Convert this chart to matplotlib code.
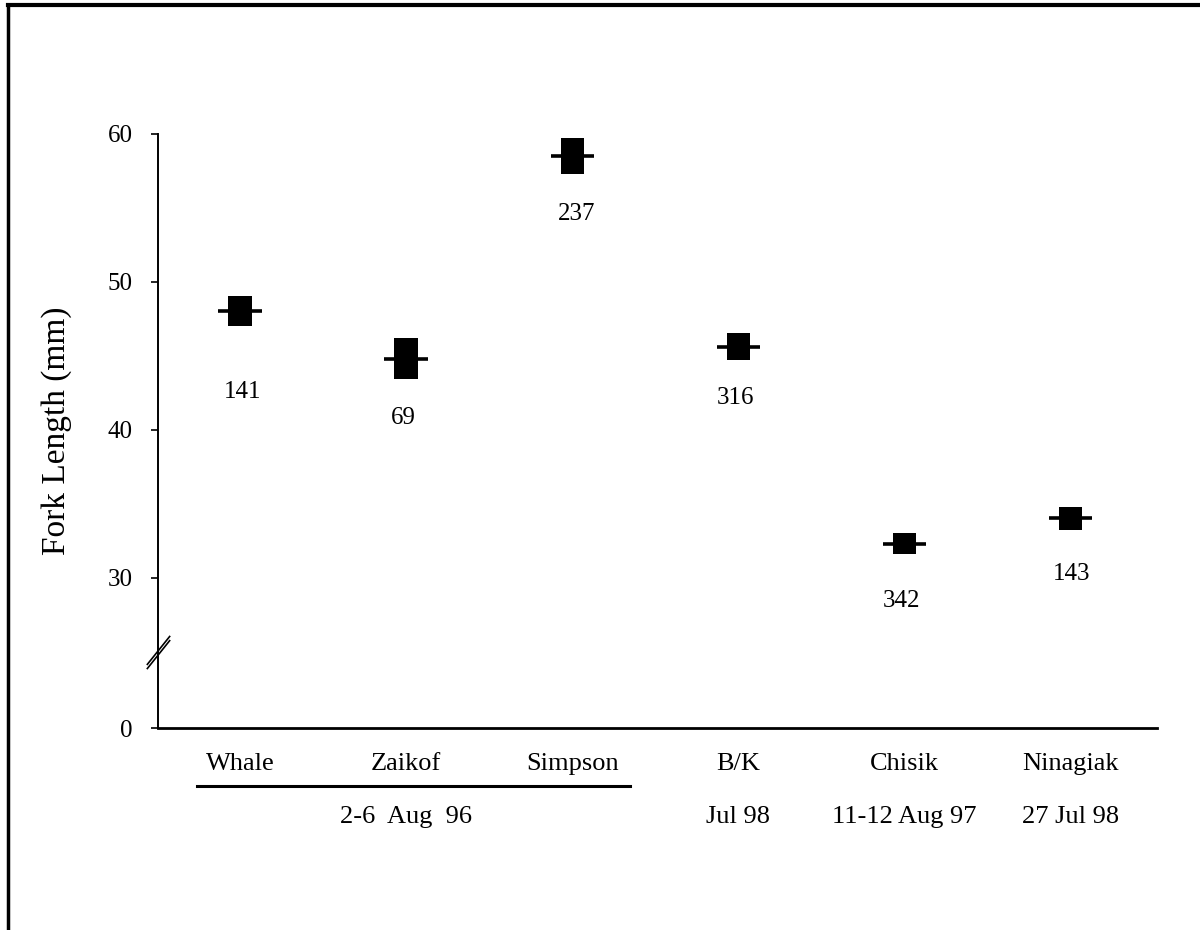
import numpy as np
import matplotlib
matplotlib.use("Agg")
import matplotlib.pyplot as plt
from matplotlib.lines import Line2D
from matplotlib.path import Path

plt.rcParams["font.family"] = ["Liberation Serif", "DejaVu Serif"]

# data
sites = ["Whale", "Zaikof", "Simpson", "B/K", "Chisik", "Ninagiak"]
mean_len = [48.0, 44.8, 58.5, 45.6, 32.3, 34.0]
err_len = [1.0, 1.4, 1.2, 0.9, 0.7, 0.8]
n_fish = [141, 69, 237, 316, 342, 143]
date_labels = ["2-6  Aug  96", "Jul 98", "11-12 Aug 97", "27 Jul 98"]
date_site = [1, 3, 4, 5]
yticks = [0, 30, 40, 50, 60]

# y axis is broken below 25 mm
BREAK = 25.0
SQUEEZE = 0.2065


def fwd(v):
    v = np.asarray(v, dtype=float)
    return np.where(v >= BREAK, v, BREAK - (BREAK - v) * SQUEEZE)


def inv(v):
    v = np.asarray(v, dtype=float)
    return np.where(v >= BREAK, v, BREAK - (BREAK - v) / SQUEEZE)


def main():
    fig = plt.figure(figsize=(12, 9.3), dpi=100)
    W, H = 1200.0, 930.0
    ax = fig.add_axes([158 / W, 1 - 728 / H, (1157 - 158) / W, (728 - 133.7) / H])

    ax.set_yscale("function", functions=(fwd, inv))
    ax.set_ylim(0, 60)
    ax.set_xlim(-0.493, len(sites) - 1 + 0.52)

    x = np.arange(len(sites))
    mean = np.array(mean_len)
    err = np.array(err_len)

    # box = mean +/- err, dash through it at the mean
    ax.bar(x, 2 * err, bottom=mean - err, width=0.14, color="black", zorder=3)
    ax.hlines(mean, x - 0.13, x + 0.13, colors="black", lw=2.6, zorder=4)

    # sample sizes under each point (offsets in px)
    offs = [(3, 81), (-3, 59), (4, 58), (-3, 51), (-3, 57), (1, 56)]
    for xi, m, n, (dx, dy) in zip(x, mean, n_fish, offs):
        ax.annotate(str(n), (xi, m), xytext=(dx * 0.72, -dy * 0.72),
                    textcoords="offset points", ha="center", va="center",
                    fontsize=18)

    for s in ["top", "right"]:
        ax.spines[s].set_visible(False)
    ax.spines["left"].set_linewidth(1.4)
    ax.spines["bottom"].set_linewidth(2.0)

    ax.set_yticks(yticks)
    ax.set_yticklabels([str(t) for t in yticks])
    ax.tick_params(axis="y", length=5, width=1.2, pad=13, labelsize=18)
    ax.set_xticks([])

    ax.set_ylabel("Fork Length (mm)", fontsize=24, labelpad=26)

    # break marks on the y axis
    brk = Path([(-0.7, -1.0), (0.7, 0.75), (-0.7, -0.75), (0.7, 1.0)],
               [Path.MOVETO, Path.LINETO, Path.MOVETO, Path.LINETO])
    ax.plot([0], [BREAK], marker=brk, markersize=24, markeredgewidth=1.2,
            color="black", transform=ax.get_yaxis_transform(), clip_on=False,
            zorder=5)

    # site names and sampling dates below the axis
    tr = ax.get_xaxis_transform()
    for xi, name in zip(x, sites):
        ax.text(xi, -0.061, name, transform=tr, ha="center", va="center",
                fontsize=19)
    for xi, lab in zip(date_site, date_labels):
        ax.text(xi, -0.150, lab, transform=tr, ha="center", va="center",
                fontsize=19)
    ax.plot([-0.26, 2.35], [-0.098, -0.098], color="black", lw=2.2,
            transform=tr, clip_on=False)

    # page frame (top and left edges)
    fig.add_artist(Line2D([8 / W, 1], [1 - 5 / H, 1 - 5 / H],
                          transform=fig.transFigure, color="black", lw=3))
    fig.add_artist(Line2D([8 / W, 8 / W], [0, 1 - 5 / H],
                          transform=fig.transFigure, color="black", lw=2.5))

    fig.savefig("out.png", dpi=100)
    plt.close(fig)


if __name__ == "__main__":
    main()
